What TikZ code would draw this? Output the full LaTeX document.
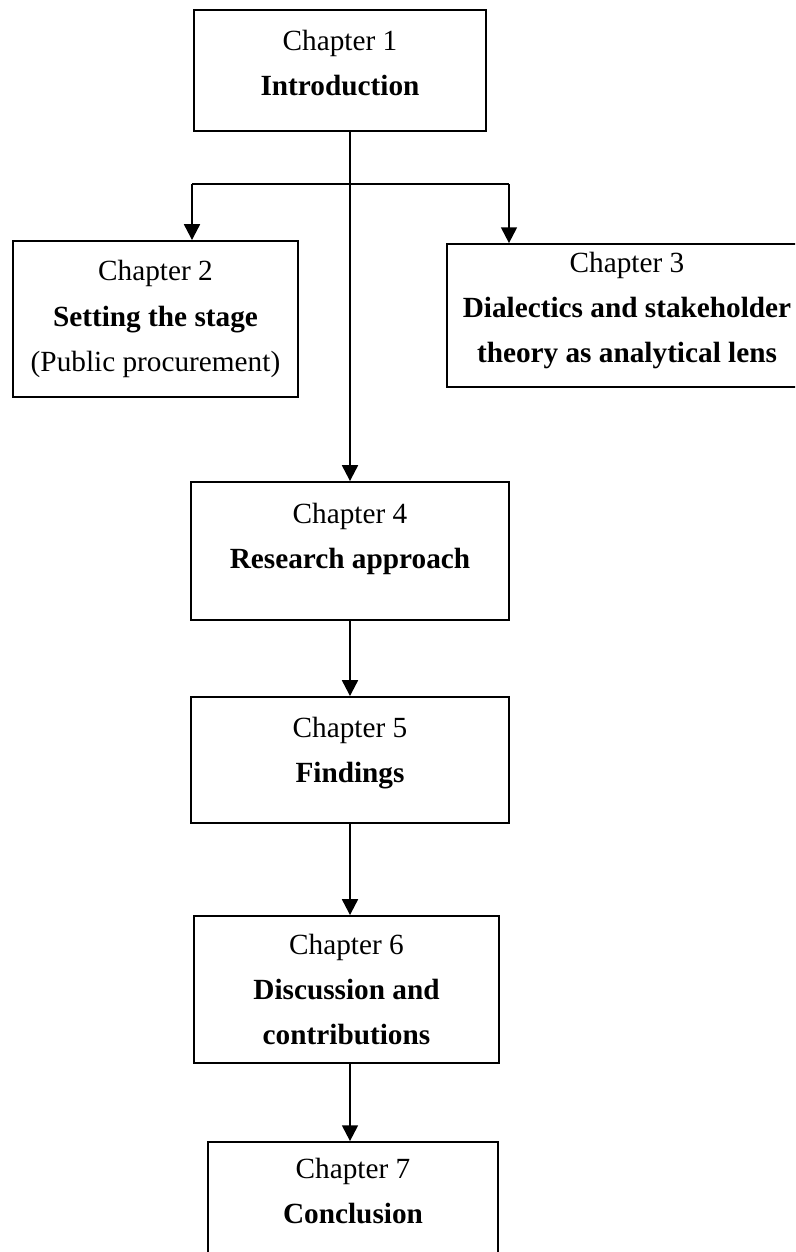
\documentclass[tikz,border=0pt]{standalone}
\usepackage{fontspec}
\setmainfont{Liberation Serif}
\usetikzlibrary{arrows.meta}
% extra depth under the last line, moves the text up in its box
\newcommand{\lift}[1]{\rule[-#1]{0pt}{0pt}}

\begin{document}
\begin{tikzpicture}[>={Triangle[length=6.5pt,width=6.5pt]},x=0.41pt,y=-0.41pt,
	chbox/.style={draw,line width=0.75pt,align=center,inner sep=0pt,font=\fontsize{12}{18.5}\selectfont},
	link/.style={->,line width=0.9pt}]
	\useasboundingbox (0,0) rectangle (795,1252);
	\clip (0,0) rectangle (795,1252);
	% chapters
	\node[chbox,minimum width=119.7pt,minimum height=49.6pt] (ch1) at (340,70.5) {Chapter 1\\\textbf{Introduction}\lift{6.5pt}};
	\node[chbox,minimum width=116.9pt,minimum height=64pt] (ch2) at (155.5,319) {Chapter 2\\\textbf{Setting the stage}\\(Public procurement)\lift{2.5pt}};
	\node[chbox,minimum width=147.6pt,minimum height=58.6pt] (ch3) at (627,315.5) {Chapter 3\\\textbf{Dialectics and stakeholder}\\\textbf{theory as analytical lens}\lift{6.5pt}};
	\node[chbox,minimum width=130.4pt,minimum height=56.6pt] (ch4) at (350,551) {Chapter 4\\\textbf{Research approach}\lift{12.5pt}};
	\node[chbox,minimum width=130.4pt,minimum height=51.7pt] (ch5) at (350,760) {Chapter 5\\\textbf{Findings}\lift{8pt}};
	\node[chbox,minimum width=125.1pt,minimum height=60.3pt] (ch6) at (346.5,989.5) {Chapter 6\\\textbf{Discussion and}\\\textbf{contributions}};
	\node[chbox,minimum width=118.9pt,minimum height=50pt] (ch7) at (353,1203) {Chapter 7\\\textbf{Conclusion}\lift{10pt}};
	% links
	\coordinate (lt) at (192,184);
	\coordinate (rt) at (509,184);
	\draw[line width=0.9pt] (lt) -- (rt);
	\draw[link] (lt) -- (lt |- ch2.north);
	\draw[link] (rt) -- (rt |- ch3.north);
	\draw[link] (ch4.north |- ch1.south) -- (ch4.north);
	\draw[link] (ch4.south) -- (ch5.north);
	\draw[link] (ch5.south) -- (ch5.south |- ch6.north);
	\draw[link] (ch5.south |- ch6.south) -- (ch5.south |- ch7.north);
\end{tikzpicture}
\end{document}
